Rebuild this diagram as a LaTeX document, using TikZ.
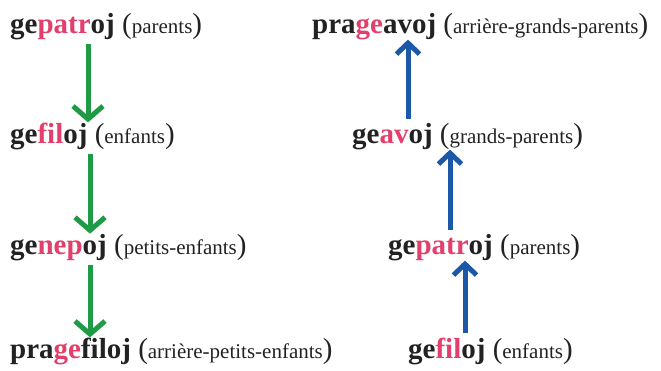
\documentclass[tikz,border=0pt]{standalone}
\usepackage{fontspec}
\setmainfont{Liberation Serif}
\newfontfamily\wordface{Liberation Serif}
\usetikzlibrary{arrows.meta,positioning}

\definecolor{rootred}{HTML}{E2406C}
\definecolor{downgreen}{HTML}{1F9B45}
\definecolor{upblue}{HTML}{1C58A8}
\definecolor{inkgray}{HTML}{222222}

\newcommand{\rt}[1]{\textcolor{rootred}{#1}}
\newcommand{\gloss}[1]{{\wordface\mdseries(\fontsize{21}{21}\selectfont #1\fontsize{29}{29}\selectfont)}}

\tikzset{
  word/.style={inner sep=0pt, anchor=base west, text=inkgray,
    font=\wordface\fontsize{29}{29}\selectfont\bfseries},
  down/.style={draw=downgreen, line width=5pt,
    -{Straight Barb[length=13pt, width=30pt, line width=5pt]}},
  up/.style={draw=upblue, line width=5pt,
    -{Straight Barb[length=11pt, width=23pt, line width=5pt]}}
}

\begin{document}
\begin{tikzpicture}[x=1pt,y=-1pt]
  \useasboundingbox (0,0) rectangle (661,370);
  % descendants, going down
  \node[word] at (10,33) (lpat) {ge\rt{patr}oj \gloss{parents}};
  \node[word] at (10,143) (lfil) {ge\rt{fil}oj \gloss{enfants}};
  \node[word] at (10,254) (lnep) {ge\rt{nep}oj \gloss{petits-enfants}};
  \node[word] at (10,358) (lpra) {pra\rt{ge}filoj \gloss{arrière-petits-enfants}};
  \draw[down] (lpat.south -| 88,0) ++(0,4) -- (lfil.north -| 88,0);
  \draw[down] (lfil.south -| 90,0) ++(0,4) -- (lnep.north -| 90,0);
  \draw[down] (lnep.south -| 90,0) ++(0,4) -- (lpra.north -| 90,0);
  % ancestors, going up
  \node[word] at (312,33) (rpra) {pra\rt{ge}avoj \gloss{arrière-grands-parents}};
  \node[word] at (352,143) (rav) {ge\rt{av}oj \gloss{grands-parents}};
  \node[word] at (388,254) (rpat) {ge\rt{patr}oj \gloss{parents}};
  \node[word] at (408,358) (rfil) {ge\rt{fil}oj \gloss{enfants}};
  \draw[up] (rav.north -| 408,0) ++(0,-4) -- (rpra.south -| 408,0);
  \draw[up] (rpat.north -| 450,0) ++(0,-4) -- (rav.south -| 450,0);
  \draw[up] (rfil.north -| 465,0) ++(0,-4) -- (rpat.south -| 465,0);
\end{tikzpicture}
\end{document}
